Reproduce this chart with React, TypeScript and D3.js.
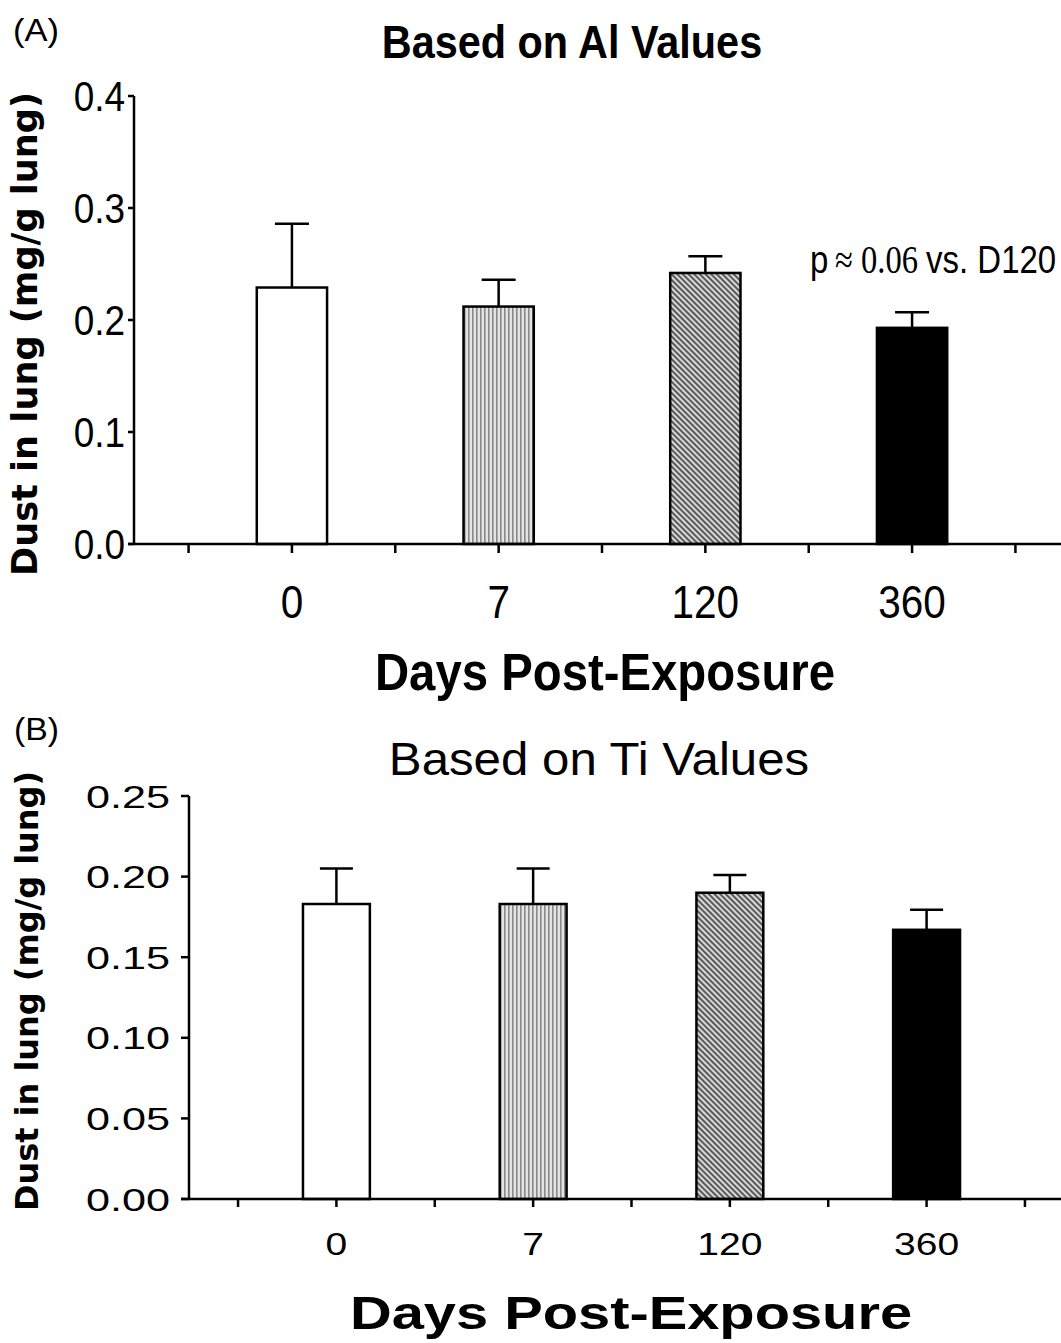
import React from 'react';
import * as d3 from 'd3';

// days post-exposure
const days = ['0', '7', '120', '360'];

// panel A: Al based lung burden (mean, SEM)
const alMeans = [0.229, 0.212, 0.242, 0.193];
const alSem = [0.057, 0.024, 0.015, 0.014];
const alTicks = [0, 0.1, 0.2, 0.3, 0.4];

// panel B: Ti based lung burden (mean, SEM)
const tiMeans = [0.183, 0.183, 0.190, 0.167];
const tiSem = [0.022, 0.022, 0.011, 0.0125];
const tiTicks = [0, 0.05, 0.1, 0.15, 0.2, 0.25];

const barFills = ['#ffffff', 'url(#vlines)', 'url(#diag)', '#000000'];

const SANS = "'Liberation Sans', Arial, Helvetica, sans-serif";
const SERIF = "'Liberation Serif', 'Times New Roman', serif";
const WIDE = "'DejaVu Sans', Verdana, sans-serif";

const Txt = ({ x, y, size, sx = 1, sy = 1, weight = 'normal', family = SANS, anchor = 'middle', rotate = 0, len, children }: any) => (
  <text
    transform={`translate(${x},${y}) rotate(${rotate}) scale(${sx},${sy})`}
    fontSize={size}
    fontWeight={weight}
    fontFamily={family}
    textAnchor={anchor}
    fill="#000"
    textLength={len}
    lengthAdjust={len ? 'spacingAndGlyphs' : undefined}
  >
    {children}
  </text>
);

const Panel = ({ means, sem, ticks, fmt, lay }: any) => {
  const x = d3.scalePoint().domain(days).range(lay.xRange).padding(lay.pad);
  const y = d3.scaleLinear().domain([0, ticks[ticks.length - 1]]).range([lay.y0, lay.y1]);
  const step = x.step();
  const bw = step * 0.34;
  const f = d3.format(fmt);

  const xTicks: number[] = [];
  days.forEach((d) => {
    xTicks.push((x(d) as number) - step / 2, x(d) as number);
  });
  xTicks.push((x(days[days.length - 1]) as number) + step / 2);

  return (
    <g>
      {days.map((d, i) => {
        const cx = x(d) as number;
        const top = y(means[i]);
        const capY = y(means[i] + sem[i]);
        return (
          <g key={d}>
            <line x1={cx} x2={cx} y1={top} y2={capY} stroke="#000" strokeWidth={2.5} />
            <line x1={cx - lay.cap / 2} x2={cx + lay.cap / 2} y1={capY} y2={capY} stroke="#000" strokeWidth={2.5} />
            <rect x={cx - bw / 2} y={top} width={bw} height={y(0) - top} fill={barFills[i]} stroke="#000" strokeWidth={2.5} />
          </g>
        );
      })}

      {/* y axis */}
      <line x1={lay.yAxisX} x2={lay.yAxisX} y1={y(ticks[ticks.length - 1])} y2={y(0)} stroke="#000" strokeWidth={2.5} />
      {ticks.map((t: number) => (
        <g key={t}>
          <line x1={lay.yAxisX - lay.yTickLen} x2={lay.yAxisX} y1={y(t)} y2={y(t)} stroke="#000" strokeWidth={2.5} />
          <Txt x={lay.yLabX} y={y(t) + lay.yLabDy} size={lay.yLabSize} sx={lay.yLabSx} anchor="end">
            {f(t)}
          </Txt>
        </g>
      ))}

      {/* x axis */}
      <line x1={lay.xRange[0]} x2={lay.xRange[1]} y1={y(0)} y2={y(0)} stroke="#000" strokeWidth={2.5} />
      {xTicks.map((t, i) => (
        <line key={i} x1={t} x2={t} y1={y(0)} y2={y(0) + lay.xTickLen} stroke="#000" strokeWidth={2.5} />
      ))}
      {days.map((d) => (
        <Txt key={d} x={x(d)} y={lay.xLabY} size={lay.xLabSize} sx={lay.xLabSx}>
          {d}
        </Txt>
      ))}
    </g>
  );
};

const layA = {
  xRange: [128, 1076], pad: 0.793, y0: 544, y1: 96, yAxisX: 134, cap: 34,
  yTickLen: 6, yLabX: 125, yLabDy: 15, yLabSize: 42, yLabSx: 0.88,
  xTickLen: 9, xLabY: 618, xLabSize: 46, xLabSx: 0.88,
};

const layB = {
  xRange: [181, 1082], pad: 0.79, y0: 1199, y1: 796, yAxisX: 189, cap: 33,
  yTickLen: 8, yLabX: 170, yLabDy: 11.5, yLabSize: 32, yLabSx: 1.35,
  xTickLen: 8, xLabY: 1255, xLabSize: 32, xLabSx: 1.22,
};

export default function App() {
  return (
    <div style={{ position: 'absolute', left: 0, top: 0 }}>
      <svg width={1061} height={1343} style={{ display: 'block', background: '#fff' }}>
        <defs>
          <pattern id="vlines" patternUnits="userSpaceOnUse" width={4} height={4}>
            <rect width={4} height={4} fill="#e4e4e4" />
            <rect x={0} width={1.6} height={4} fill="#8a8a8a" />
          </pattern>
          <pattern id="diag" patternUnits="userSpaceOnUse" width={4} height={4} patternTransform="rotate(-45)">
            <rect width={4} height={4} fill="#d8d8d8" />
            <rect x={0} width={2} height={4} fill="#5a5a5a" />
          </pattern>
        </defs>
        <rect width={1061} height={1343} fill="#fff" />

        {/* Panel A */}
        <Txt x={13} y={41} size={32} anchor="start" len={46}>(A)</Txt>
        <Txt x={572} y={58} size={46} weight="bold" sx={0.9}>Based on Al Values</Txt>
        <Txt x={37} y={334} size={35} weight="bold" family={WIDE} rotate={-90} len={484}>Dust in lung (mg/g lung)</Txt>
        <Panel means={alMeans} sem={alSem} ticks={alTicks} fmt=".1f" lay={layA} />
        <Txt x={810} y={273} size={33} sy={1.2} anchor="start">p</Txt>
        <Txt x={835} y={273} size={33} sy={1.2} family={SERIF} anchor="start" len={83}>≈ 0.06</Txt>
        <Txt x={926} y={273} size={33} sy={1.2} anchor="start">vs. D120</Txt>
        <Txt x={605} y={690} size={52} weight="bold" sx={0.91}>Days Post-Exposure</Txt>

        {/* Panel B */}
        <Txt x={14} y={740} size={32} anchor="start" len={45}>(B)</Txt>
        <Txt x={599} y={775} size={46} sx={1.07}>Based on Ti Values</Txt>
        <Txt x={38} y={991} size={32} weight="bold" family={WIDE} rotate={-90} len={440}>Dust in lung (mg/g lung)</Txt>
        <Panel means={tiMeans} sem={tiSem} ticks={tiTicks} fmt=".2f" lay={layB} />
        <Txt x={631} y={1329} size={47} weight="bold" sx={1.23}>Days Post-Exposure</Txt>
      </svg>
    </div>
  );
}
